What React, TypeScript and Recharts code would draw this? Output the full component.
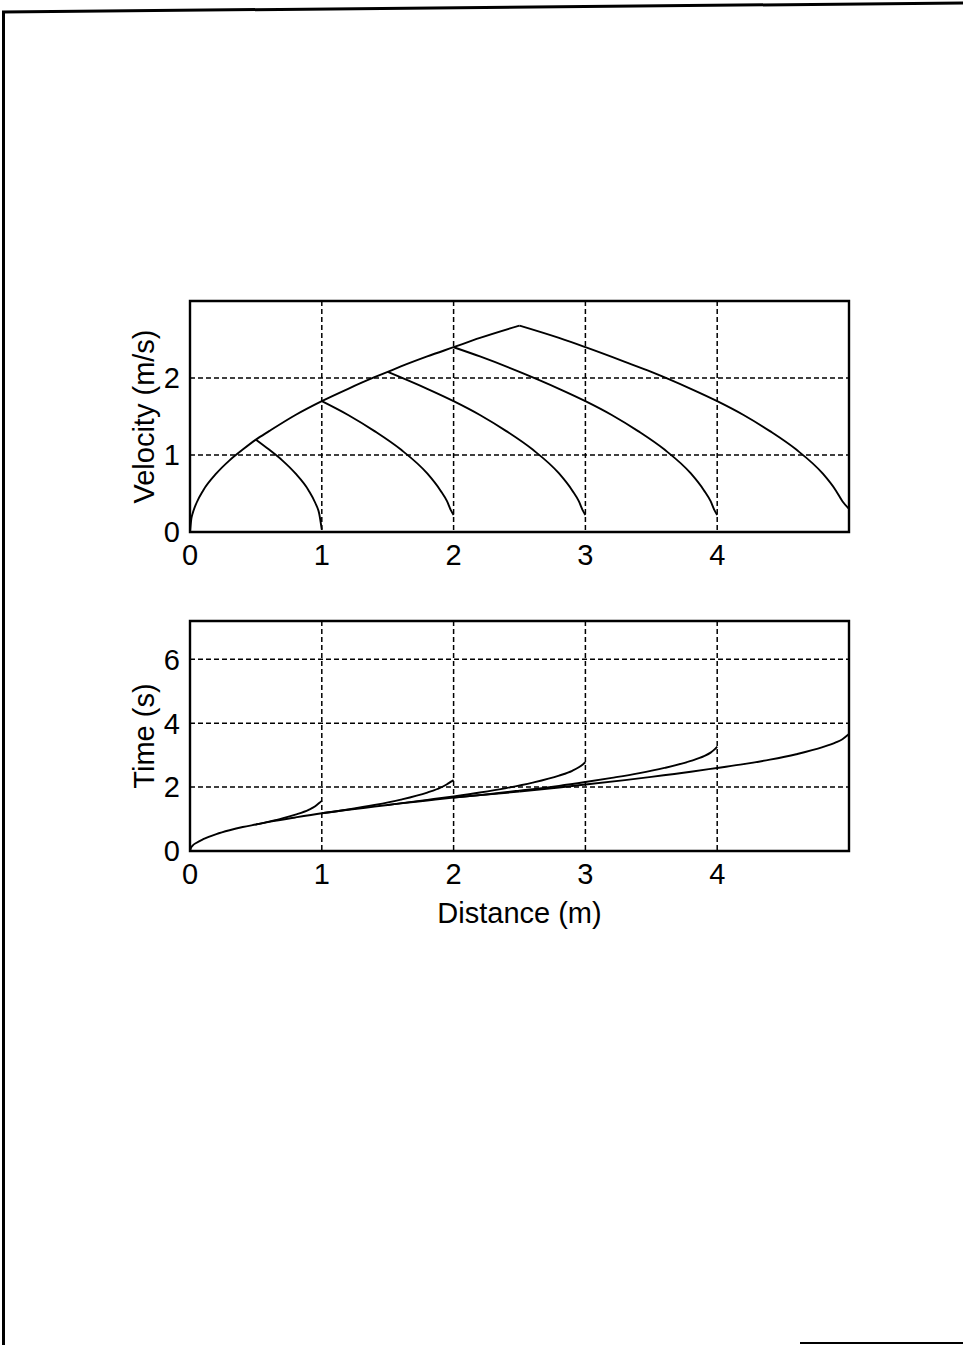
import React from "react"
import {
  LineChart,
  Line,
  XAxis,
  YAxis,
  CartesianGrid,
  ReferenceArea,
} from "recharts"

// distance ticks shared by both panels
const distanceTicks = [0, 1, 2, 3, 4]
const velocityTicks = [0, 1, 2]
const timeTicks = [0, 2, 4, 6]

// shared acceleration ramp (all moves start the same way)
const rampX = [0, 0.01, 0.02, 0.05, 0.1, 0.2, 0.3, 0.4, 0.5, 0.6, 0.8, 1.0, 1.2, 1.4, 1.5, 1.6, 1.8, 2.0, 2.2, 2.5]
const rampVelocity = [0, 0.17, 0.24, 0.38, 0.54, 0.76, 0.93, 1.07, 1.2, 1.31, 1.52, 1.7, 1.86, 2.01, 2.08, 2.15, 2.28, 2.4, 2.52, 2.68]
const rampTime = [0, 0.12, 0.17, 0.26, 0.37, 0.53, 0.65, 0.75, 0.83, 0.91, 1.05, 1.18, 1.29, 1.39, 1.44, 1.49, 1.58, 1.67, 1.75, 1.86]

// braking branches, one per target distance (1 m .. 5 m)
const brake1X = [0.5, 0.6, 0.7, 0.8, 0.9, 0.95, 0.98, 1.0]
const brake1Velocity = [1.2, 1.07, 0.93, 0.76, 0.54, 0.38, 0.24, 0.03]
const brake1Time = [0.83, 0.92, 1.02, 1.14, 1.29, 1.4, 1.5, 1.57]

const brake2X = [1.0, 1.2, 1.4, 1.6, 1.8, 1.9, 1.95, 1.98, 2.0]
const brake2Velocity = [1.7, 1.52, 1.31, 1.07, 0.76, 0.54, 0.4, 0.28, 0.22]
const brake2Time = [1.18, 1.3, 1.44, 1.61, 1.83, 1.98, 2.09, 2.17, 2.22]

const brake3X = [1.5, 1.8, 2.0, 2.2, 2.4, 2.6, 2.8, 2.9, 2.95, 2.98, 3.0]
const brake3Velocity = [2.08, 1.86, 1.7, 1.52, 1.31, 1.07, 0.76, 0.54, 0.4, 0.28, 0.22]
const brake3Time = [1.44, 1.6, 1.71, 1.83, 1.97, 2.14, 2.36, 2.51, 2.62, 2.71, 2.78]

const brake4X = [2.0, 2.2, 2.5, 2.8, 3.0, 3.2, 3.4, 3.6, 3.8, 3.9, 3.95, 3.98, 4.0]
const brake4Velocity = [2.4, 2.28, 2.08, 1.86, 1.7, 1.52, 1.31, 1.07, 0.76, 0.54, 0.4, 0.28, 0.22]
const brake4Time = [1.67, 1.75, 1.89, 2.04, 2.16, 2.29, 2.43, 2.6, 2.82, 2.97, 3.08, 3.18, 3.27]

const brake5X = [2.5, 2.8, 3.0, 3.3, 3.5, 3.8, 4.0, 4.2, 4.4, 4.6, 4.8, 4.9, 4.95, 5.0]
const brake5Velocity = [2.68, 2.52, 2.4, 2.21, 2.08, 1.86, 1.7, 1.52, 1.31, 1.07, 0.76, 0.54, 0.4, 0.3]
const brake5Time = [1.86, 1.99, 2.08, 2.22, 2.32, 2.48, 2.6, 2.72, 2.86, 3.03, 3.25, 3.4, 3.5, 3.66]

const zip = (xs: number[], ys: number[]) => xs.map((x, i) => ({ x, y: ys[i] }))

const velocitySeries = [
  zip(rampX, rampVelocity),
  zip(brake1X, brake1Velocity),
  zip(brake2X, brake2Velocity),
  zip(brake3X, brake3Velocity),
  zip(brake4X, brake4Velocity),
  zip(brake5X, brake5Velocity),
]

const timeSeries = [
  zip(rampX, rampTime),
  zip(brake1X, brake1Time),
  zip(brake2X, brake2Time),
  zip(brake3X, brake3Time),
  zip(brake4X, brake4Time),
  zip(brake5X, brake5Time),
]

const FONT = '"Liberation Sans", Arial, Helvetica, sans-serif'
const tickStyle = { fill: "#000", fontSize: 29, fontFamily: FONT }

const Panel = ({
  series,
  yMax,
  yTicks,
  yTitle,
  xTitle,
  top,
  height,
  margin,
  xAxisHeight,
}: {
  series: { x: number; y: number }[][]
  yMax: number
  yTicks: number[]
  yTitle: string
  xTitle?: string
  top: number
  height: number
  margin: { top: number; right: number; left: number; bottom: number }
  xAxisHeight: number
}) => (
  <div style={{ position: "absolute", left: 0, top }}>
    <LineChart width={963} height={height} margin={margin}>
      {/* dashed grid */}
      <CartesianGrid stroke="#000" strokeWidth={1.5} strokeDasharray="5 3" />

      <XAxis
        type="number"
        dataKey="x"
        domain={[0, 5]}
        ticks={distanceTicks}
        allowDataOverflow
        axisLine={false}
        tickLine={false}
        tickSize={0}
        tickMargin={12}
        height={xAxisHeight}
        tick={tickStyle}
        label={
          xTitle
            ? {
                value: xTitle,
                position: "insideBottom",
                offset: 8,
                style: { fill: "#000", fontSize: 29, fontFamily: FONT },
              }
            : undefined
        }
      />
      <YAxis
        type="number"
        dataKey="y"
        domain={[0, yMax]}
        ticks={yTicks}
        allowDataOverflow
        axisLine={false}
        tickLine={false}
        tickSize={0}
        tickMargin={10}
        width={60}
        tick={tickStyle}
        label={{
          value: yTitle,
          angle: -90,
          position: "insideLeft",
          offset: 14,
          style: { fill: "#000", fontSize: 29, fontFamily: FONT, textAnchor: "middle" },
        }}
      />

      {series.map((d, i) => (
        <Line
          key={i}
          data={d}
          dataKey="y"
          type="monotoneX"
          stroke="#000"
          strokeWidth={1.9}
          dot={false}
          activeDot={false}
          isAnimationActive={false}
        />
      ))}

      {/* plot frame */}
      <ReferenceArea
        x1={0}
        x2={5}
        y1={0}
        y2={yMax}
        fill="none"
        stroke="#000"
        strokeWidth={2.4}
        ifOverflow="visible"
      />
    </LineChart>
  </div>
)

export default function App() {
  return (
    <div
      style={{
        position: "absolute",
        left: 0,
        top: 0,
        width: 963,
        height: 1345,
        background: "#fff",
        overflow: "hidden",
      }}
    >
      {/* page frame */}
      <svg width={963} height={1345} style={{ position: "absolute", left: 0, top: 0 }}>
        <line x1={3.5} y1={11} x2={3.5} y2={1345} stroke="#000" strokeWidth={3} />
        <line x1={2} y1={12} x2={963} y2={3} stroke="#000" strokeWidth={3} />
        <line x1={800} y1={1343} x2={963} y2={1343} stroke="#000" strokeWidth={2} />
      </svg>

      <Panel
        series={velocitySeries}
        yMax={3}
        yTicks={velocityTicks}
        yTitle="Velocity (m/s)"
        top={0}
        height={600}
        margin={{ top: 301, right: 114, left: 130, bottom: 28 }}
        xAxisHeight={40}
      />

      <Panel
        series={timeSeries}
        yMax={7.2}
        yTicks={timeTicks}
        yTitle="Time (s)"
        xTitle="Distance (m)"
        top={560}
        height={420}
        margin={{ top: 61, right: 114, left: 130, bottom: 49 }}
        xAxisHeight={80}
      />
    </div>
  )
}
